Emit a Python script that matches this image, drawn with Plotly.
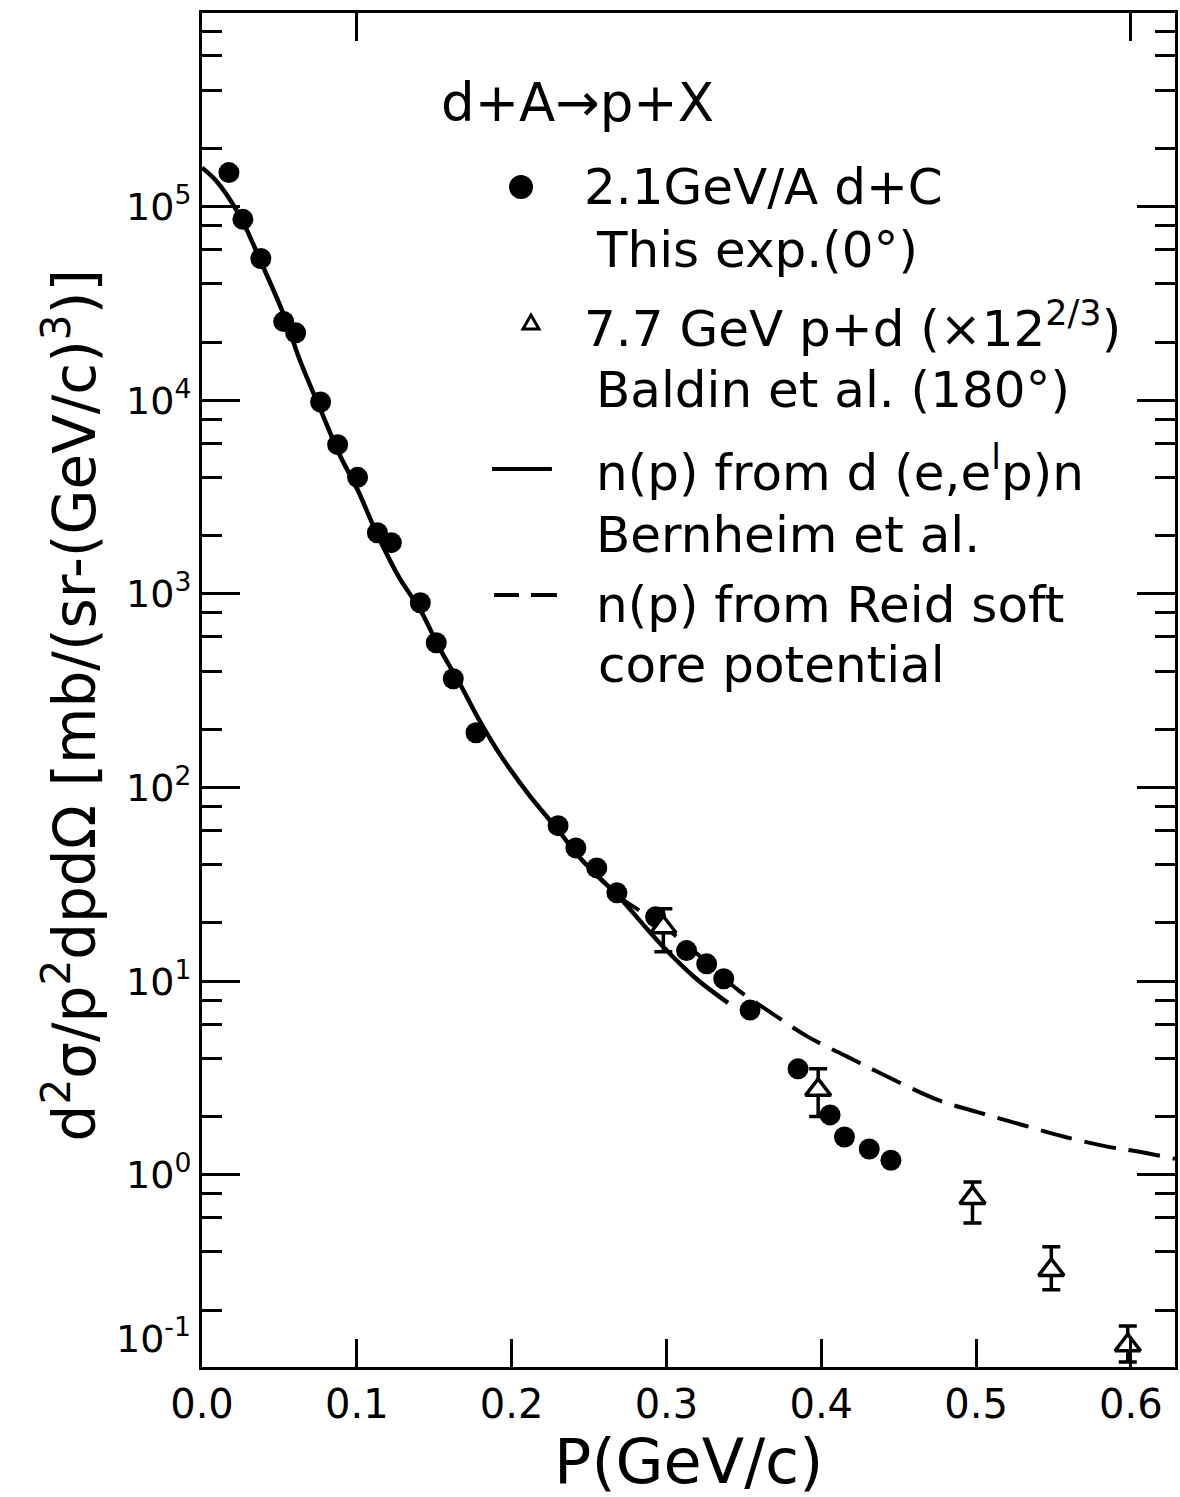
import plotly.graph_objects as go

# ---------------------------------------------------------------- data
# 2.1 GeV/A d+C, this experiment (0 deg)
p_dC = [0.0174, 0.0264, 0.038, 0.0528, 0.0605, 0.0766, 0.0876, 0.1005, 0.1133,
        0.1223, 0.141, 0.1513, 0.1623, 0.177, 0.230, 0.2415, 0.255, 0.268,
        0.293, 0.313, 0.326, 0.337, 0.354, 0.385, 0.4057, 0.415, 0.431, 0.445]
xs_dC = [1.5e5, 8.6e4, 5.4e4, 2.55e4, 2.23e4, 9.8e3, 5.9e3, 4.0e3, 2.07e3,
         1.84e3, 901, 560, 365, 192, 63.6, 48.8, 38.5, 28.6,
         21.5, 14.4, 12.3, 10.3, 7.1, 3.53, 2.04, 1.57, 1.36, 1.19]

# 7.7 GeV p+d (x 12^(2/3)), Baldin et al. (180 deg)
p_pd = [0.298, 0.398, 0.4977, 0.5486, 0.598]
xs_pd = [19.0, 2.75, 0.76, 0.323, 0.132]
xs_pd_hi = [23.7, 3.53, 0.92, 0.425, 0.166]
xs_pd_lo = [14.2, 2.0, 0.565, 0.255, 0.108]

# n(p) from d(e,e'p)n, Bernheim et al.
p_bern = [0.0, 0.0084, 0.018, 0.0264, 0.038, 0.0528, 0.0631, 0.0766, 0.0889,
          0.1005, 0.1133, 0.1275, 0.141, 0.1533, 0.1662, 0.179, 0.1938,
          0.2112, 0.2299, 0.2453, 0.2692, 0.2968, 0.3187, 0.3398]
xs_bern = [1.59e5, 1.38e5, 1.09e5, 8.36e4, 5.2e4, 2.77e4, 1.62e4, 8.93e3, 5.23e3,
           3.45e3, 2.02e3, 1.21e3, 828, 527, 348, 224, 143,
           91.8, 60.5, 42.4, 27.3, 15.4, 10.4, 7.73]

# n(p) from Reid soft core potential
p_reid = [0.2453, 0.269, 0.280, 0.301, 0.3187, 0.3464, 0.3677, 0.3915, 0.417,
          0.4366, 0.4752, 0.501, 0.530, 0.5576, 0.5847, 0.6045, 0.6285]
xs_reid = [42.4, 27.5, 23.9, 18.4, 14.1, 9.0, 6.87, 5.16, 4.07,
           3.40, 2.44, 2.11, 1.81, 1.57, 1.40, 1.32, 1.21]

x_ticks = [0.0, 0.1, 0.2, 0.3, 0.4, 0.5, 0.6]
x_ticklabels = ["0.0", "0.1", "0.2", "0.3", "0.4", "0.5", "0.6"]
x_top_ticks = [0.1, 0.6]
y_major = [1e-1, 1e0, 1e1, 1e2, 1e3, 1e4, 1e5, 1e6]
y_major_text = ["", "10<sup>0</sup>", "10<sup>1</sup>", "10<sup>2</sup>",
                "10<sup>3</sup>", "10<sup>4</sup>", "10<sup>5</sup>", ""]
y_minor = [m * 10.0 ** k for k in range(-1, 6) for m in (2, 4, 6, 8)]

# ---------------------------------------------------------------- layout geometry
W, H = 1180, 1497
L, R, T, B = 202, 2, 13, 130
PW, PH = W - L - R, H - T - B
FONT = "DejaVu Sans"
X_RANGE = [0, 0.6285]
Y_RANGE = [-0.992, 6.0]


def X(px):
    return (px - L) / PW


def Y(py):
    return (H - B - py) / PH


fig = go.Figure()

fig.add_trace(go.Scatter(x=p_bern, y=xs_bern, mode="lines", line_shape="spline",
                         line=dict(color="black", width=4.5), hoverinfo="skip"))
fig.add_trace(go.Scatter(x=p_reid, y=xs_reid, mode="lines", line_shape="spline",
                         line=dict(color="black", width=4, dash="32px,13px"),
                         hoverinfo="skip"))
fig.add_trace(go.Scatter(x=p_dC, y=xs_dC, mode="markers",
                         marker=dict(symbol="circle", size=21, color="black",
                                     line=dict(width=0))))
# error bars first, open triangles on top so the stems stop at the outline
fig.add_trace(go.Scatter(
    x=p_pd, y=xs_pd, mode="markers", marker=dict(size=1, opacity=0),
    error_y=dict(type="data", symmetric=False,
                 array=[h - v for h, v in zip(xs_pd_hi, xs_pd)],
                 arrayminus=[v - l for v, l in zip(xs_pd, xs_pd_lo)],
                 color="black", thickness=3.5, width=9)))
fig.add_trace(go.Scatter(
    x=p_pd, y=xs_pd, mode="markers",
    marker=dict(symbol="triangle-up", size=22, color="white",
                line=dict(color="black", width=3.5))))
# carrier for the secondary tick axes (top x ticks, minor y ticks)
fig.add_trace(go.Scatter(x=x_top_ticks, y=xs_pd[:2], xaxis="x2", yaxis="y2",
                         mode="markers", marker=dict(opacity=0), hoverinfo="skip"))

axis_common = dict(showgrid=False, zeroline=False, linecolor="black", linewidth=3,
                   ticks="inside", tickcolor="black", tickwidth=3)
tick_only = dict(showgrid=False, zeroline=False, showline=False,
                 showticklabels=False, ticks="inside", tickcolor="black",
                 tickwidth=3)

fig.update_layout(
    width=W, height=H,
    margin=dict(l=L, r=R, t=T, b=B),
    paper_bgcolor="white", plot_bgcolor="white",
    showlegend=False,
    font=dict(family=FONT, color="black"),
    xaxis=dict(range=X_RANGE, tickvals=x_ticks, ticktext=x_ticklabels,
               ticklen=28, mirror=True, tickfont=dict(size=40, family=FONT),
               ticklabelstandoff=0, **axis_common),
    xaxis2=dict(range=X_RANGE, overlaying="x", side="top", anchor="y",
                tickvals=x_top_ticks, ticklen=28, **tick_only),
    yaxis=dict(type="log", range=Y_RANGE, tickvals=y_major,
               ticktext=y_major_text, ticklen=38, mirror="allticks",
               tickfont=dict(size=38, family=FONT), ticklabelstandoff=0,
               **axis_common),
    yaxis2=dict(type="log", range=Y_RANGE, overlaying="y", side="left",
                anchor="x", tickvals=y_minor, ticklen=20, mirror="allticks",
                **tick_only),
)

ann = []
# bottom decade label sits just above the frame corner
ann.append(dict(text="10<sup>-1</sup>", x=X(193), y=Y(1336), xanchor="right",
                yanchor="middle", font=dict(size=38)))
# axis titles
ann.append(dict(text="P(GeV/c)", x=X(690), y=Y(1462), xanchor="center",
                yanchor="middle", font=dict(size=62)))
ann.append(dict(text="d<sup>2</sup>σ/p<sup>2</sup>dpdΩ [mb/(sr-(GeV/c)<sup>3</sup>)]",
                textangle=-90, x=X(70), y=Y(705), xanchor="center",
                yanchor="middle", font=dict(size=58)))

# key
key_text = [
    ("d+A→p+X", 440, 102, 53),
    ("2.1GeV/A d+C", 583, 187, 50),
    ("This exp.(0°)", 595, 250, 50),
    ("7.7 GeV p+d (×12<sup>2/3</sup>)", 583, 325, 50),
    ("Baldin et al. (180°)", 595, 390, 50),
    ("n(p) from d (e,e<sup>l</sup>p)n", 595, 470, 50),
    ("Bernheim et al.", 595, 535, 50),
    ("n(p) from Reid soft", 595, 605, 50),
    ("core potential", 597, 665, 50),
]
for txt, px, py, fs in key_text:
    ann.append(dict(text=txt, x=X(px), y=Y(py), xanchor="left", yanchor="middle",
                    font=dict(size=fs)))

for a in ann:
    a.update(xref="paper", yref="paper", showarrow=False)
fig.update_layout(annotations=ann)

shapes = [
    dict(type="circle", xref="paper", yref="paper", x0=X(510), x1=X(534),
         y0=Y(199), y1=Y(175), fillcolor="black", line=dict(width=0)),
    dict(type="path", xref="paper", yref="paper",
         path=f"M {X(524)},{Y(329)} L {X(540)},{Y(329)} L {X(532)},{Y(315)} Z",
         fillcolor="white", line=dict(color="black", width=3)),
    dict(type="line", xref="paper", yref="paper", x0=X(493), x1=X(553),
         y0=Y(469), y1=Y(469), line=dict(color="black", width=4)),
    dict(type="line", xref="paper", yref="paper", x0=X(495), x1=X(520),
         y0=Y(595), y1=Y(595), line=dict(color="black", width=4)),
    dict(type="line", xref="paper", yref="paper", x0=X(532), x1=X(558),
         y0=Y(595), y1=Y(595), line=dict(color="black", width=4)),
]
fig.update_layout(shapes=shapes)

fig.write_html("out.html")
